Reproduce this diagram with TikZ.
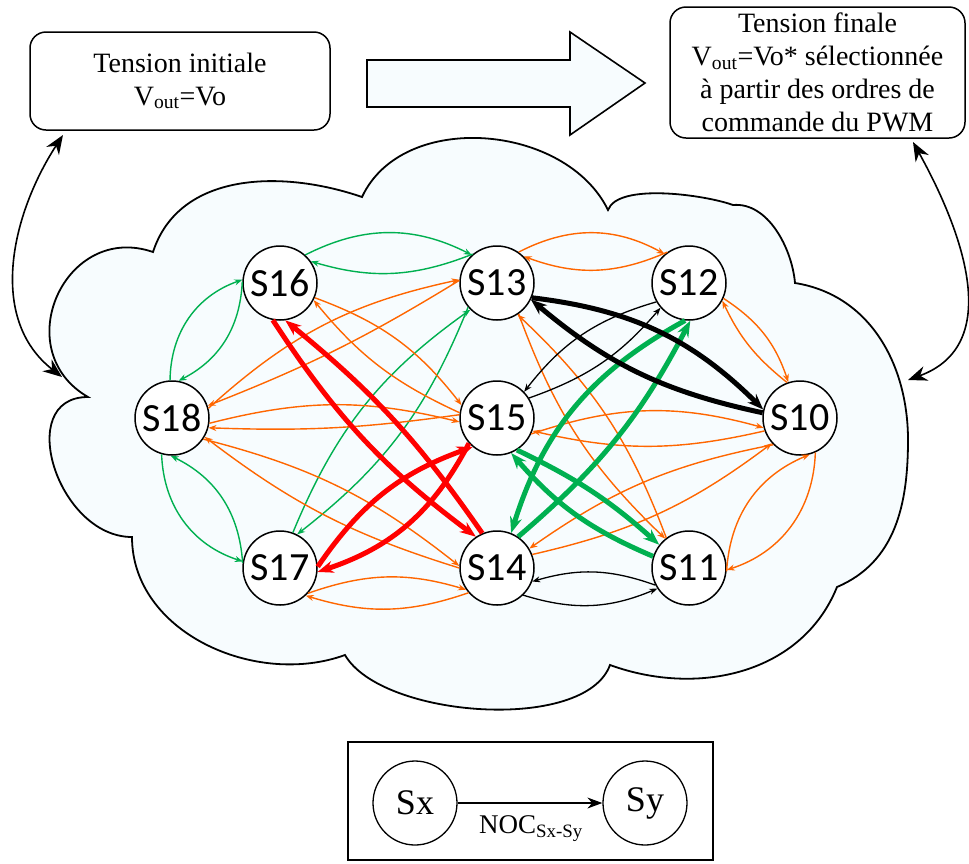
\documentclass[tikz,border=0pt]{standalone}
\usepackage{fontspec}
\setmainfont{Liberation Serif}
\newfontfamily\carl{Carlito}
\usetikzlibrary{arrows.meta,calc}
\definecolor{og}{HTML}{FF6600}
\definecolor{gn}{HTML}{00B050}
\definecolor{rd}{HTML}{FF0000}
\definecolor{cl}{HTML}{F7FCFE}
\newcommand\lnk[6]{\draw[#1] (#2.#3) to[bend left=#6] (#4.#5);}
\begin{document}
\begin{tikzpicture}[x=1pt,y=1pt,
  st/.style={circle,draw,fill=white,line width=1.5pt,minimum size=74pt,inner sep=0pt,font=\carl\fontsize{40}{40}\selectfont},
  thinhead/.style={-{Stealth[length=8pt,width=6pt]}},
  thickhead/.style={-{Stealth[length=16pt,width=12pt]}},
  gt/.style={gn,line width=1.4pt,thinhead},
  ot/.style={og,line width=1.4pt,thinhead},
  kt/.style={black,line width=1.3pt,thinhead},
  gT/.style={gn,line width=5pt,thickhead},
  rT/.style={rd,line width=5pt,thickhead},
  kT/.style={black,line width=5pt,thickhead},
  box/.style={draw,fill=white,rounded corners=16pt,line width=1.5pt,align=center,inner sep=0pt,font=\fontsize{28}{33}\selectfont},
  bigarr/.style={line width=1.6pt,{Stealth[length=19pt,width=15pt]}-{Stealth[length=19pt,width=15pt]}},
  lgc/.style={circle,draw,line width=1.3pt,minimum size=84pt,inner sep=0pt,font=\fontsize{36}{36}\selectfont}
]
\useasboundingbox (0,0) rectangle (969,-863);

% cloud
\draw[line width=1.8pt,fill=cl]
  (88,-397) to[out=150,in=161,looseness=1.5] (153,-252)
  to[out=72,in=161,looseness=1] (362,-197)
  to[out=65,in=116,looseness=1] (608,-210)
  to[out=70,in=160,looseness=0.6] (733,-205)
  to[out=5,in=95,looseness=0.9] (795,-283)
  to[out=351,in=90,looseness=1] (908,-440)
  to[out=270,in=23,looseness=1] (837,-587)
  to[out=248,in=340,looseness=1] (610,-665)
  to[out=250,in=300,looseness=0.7] (345,-655)
  to[out=200,in=270,looseness=1] (132,-537)
  to[out=180,in=180,looseness=1.3] cycle;

% top boxes and arrow
\node[box,minimum width=300pt,minimum height=98pt] (init) at (180,-81) {Tension initiale\\V\textsubscript{out}=Vo};
\node[box,minimum width=295pt,minimum height=131pt] (fin) at (817.5,-72.5) {Tension finale\\V\textsubscript{out}=Vo* sélectionnée\\à partir des ordres de\\commande du PWM};
\draw[line width=1.6pt,fill=cl] (367,-60) -- (570,-60) -- (570,-32) -- (645,-83) -- (570,-135) -- (570,-107) -- (367,-107) -- cycle;

\coordinate (La) at (63,-135);
\coordinate (Lb) at (62,-377);
\coordinate (Ra) at (913,-142);
\coordinate (Rb) at (908,-380);
\draw[bigarr] (La) to[out=237,in=142,looseness=1] (Lb);
\draw[bigarr] (Ra) to[out=299,in=20,looseness=1.1] (Rb);

% state nodes
\node[st] (S16) at (280,-283) {S16};
\node[st] (S13) at (497,-283) {S13};
\node[st] (S12) at (689,-283) {S12};
\node[st] (S18) at (172,-418) {S18};
\node[st] (S15) at (497,-418) {S15};
\node[st] (S10) at (800,-418) {S10};
\node[st] (S17) at (280,-568) {S17};
\node[st] (S14) at (497,-568) {S14};
\node[st] (S11) at (689,-568) {S11};

% green thin
\lnk{gt}{S16}{48}{S13}{132}{27}
\lnk{gt}{S13}{130}{S16}{35}{19}
\lnk{gt}{S18}{93}{S16}{175}{35}
\lnk{gt}{S16}{178}{S18}{80}{30}
\lnk{gt}{S18}{254}{S17}{170}{-35}
\lnk{gt}{S17}{172}{S18}{268}{-30}
\lnk{gt}{S17}{70}{S13}{225}{16}
\lnk{gt}{S13}{220}{S17}{63}{15}

% orange thin
\lnk{ot}{S13}{55}{S12}{130}{28}
\lnk{ot}{S12}{125}{S13}{45}{22}
\lnk{ot}{S16}{337}{S15}{160}{16}
\lnk{ot}{S15}{172}{S16}{333}{13}
\lnk{ot}{S18}{15}{S13}{175}{15}
\lnk{ot}{S13}{176}{S18}{19}{5}
\lnk{ot}{S18}{352}{S15}{186}{14}
\lnk{ot}{S15}{175}{S18}{345}{5}
\lnk{ot}{S18}{326}{S14}{177}{12}
\lnk{ot}{S14}{180}{S18}{330}{10}
\lnk{ot}{S17}{318}{S14}{215}{18}
\lnk{ot}{S14}{221}{S17}{313}{18}
\lnk{ot}{S12}{336}{S10}{108}{19}
\lnk{ot}{S10}{110}{S12}{332}{13}
\lnk{ot}{S10}{294}{S11}{357}{35}
\lnk{ot}{S11}{355}{S10}{285}{32}
\lnk{ot}{S15}{335}{S10}{195}{17}
\lnk{ot}{S10}{200}{S15}{340}{13}
\lnk{ot}{S14}{21}{S10}{222}{-12}
\lnk{ot}{S10}{225}{S14}{31}{-12}
\lnk{ot}{S13}{305}{S11}{129}{-13}
\lnk{ot}{S11}{127}{S13}{303}{-13}

% red thick
\lnk{rT}{S16}{259}{S14}{124}{-10}
\lnk{rT}{S14}{113}{S16}{278}{-8}
\lnk{rT}{S17}{2}{S15}{230}{18}
\lnk{rT}{S15}{222}{S17}{354}{22}

% green thick
\lnk{gT}{S15}{302}{S11}{142}{8}
\lnk{gT}{S11}{162}{S15}{292}{13}
\lnk{gT}{S12}{264}{S14}{68}{-22}
\lnk{gT}{S14}{56}{S12}{272}{-11}

% black thick and thin
\lnk{kT}{S13}{337}{S10}{167}{19}
\lnk{kT}{S10}{172}{S13}{334}{14}
\lnk{kt}{S12}{210}{S15}{44}{-18}
\lnk{kt}{S15}{32}{S12}{221}{-15}
\lnk{kt}{S11}{207}{S14}{339}{-18}
\lnk{kt}{S14}{314}{S11}{213}{-20}

% legend
\node[draw,line width=2.2pt,minimum width=365pt,minimum height=118pt,inner sep=0pt] (leg) at (530.5,-801) {};
\node[lgc] (sx) at (415,-803) {Sx};
\node[lgc] (sy) at (645,-803) {Sy};
\draw[line width=1.3pt,-{Stealth[length=15pt,width=11pt]}] (sx) -- (sy);
\node[font=\fontsize{27}{27}\selectfont] (noc) at (531,-829) {NOC\textsubscript{Sx-Sy}};
\end{tikzpicture}
\end{document}
